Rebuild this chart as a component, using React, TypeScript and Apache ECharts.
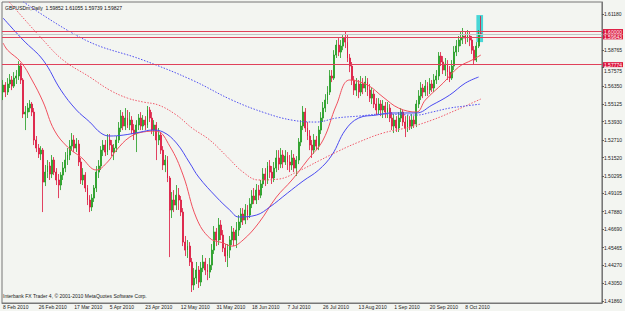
import { useEffect, useRef } from 'react';
import * as echarts from 'echarts';

const SLOT_COUNT = 270;
const LABEL_EVERY = 16;
const categories = Array.from({ length: SLOT_COUNT }, (_, i) => String(i));

const dateLabels = [
  '8 Feb 2010', '26 Feb 2010', '17 Mar 2010', '5 Apr 2010', '23 Apr 2010',
  '12 May 2010', '31 May 2010', '18 Jun 2010', '7 Jul 2010', '26 Jul 2010',
  '13 Aug 2010', '1 Sep 2010', '20 Sep 2010', '8 Oct 2010',
];

const priceTicks = [
  1.4186, 1.4305, 1.4427, 1.45465, 1.4669, 1.4788, 1.49105, 1.50295, 1.5152,
  1.5271, 1.5393, 1.55125, 1.5635, 1.57575, 1.58765, 1.59975, 1.6118,
];
// tick labels that sit just under a level-line box, nudged down as in the reference
const nudgedTicks = [1.57575];

// [open, close, low, high]
const candles = [
  [1.5593, 1.5640, 1.5539, 1.5674], [1.5640, 1.5593, 1.5559, 1.5660], [1.5593, 1.5647, 1.5573, 1.5687],
  [1.5647, 1.5674, 1.5620, 1.5714], [1.5674, 1.5633, 1.5606, 1.5701], [1.5633, 1.5687, 1.5620, 1.5727],
  [1.5687, 1.5701, 1.5647, 1.5741], [1.5701, 1.5768, 1.5674, 1.5801], [1.5768, 1.5674, 1.5647, 1.5788],
  [1.5674, 1.5445, 1.5418, 1.5687], [1.5445, 1.5458, 1.5337, 1.5499], [1.5458, 1.5485, 1.5418, 1.5519],
  [1.5485, 1.5512, 1.5458, 1.5539], [1.5512, 1.5458, 1.5431, 1.5526], [1.5458, 1.5270, 1.5236, 1.5485],
  [1.5270, 1.5216, 1.5189, 1.5297], [1.5216, 1.5176, 1.5149, 1.5243], [1.5176, 1.5202, 1.5135, 1.5229],
  [1.5202, 1.4987, 1.4785, 1.5216], [1.4987, 1.5054, 1.4960, 1.5102], [1.5054, 1.5095, 1.5014, 1.5135],
  [1.5095, 1.5041, 1.5001, 1.5122], [1.5041, 1.5135, 1.5014, 1.5169], [1.5135, 1.5054, 1.5034, 1.5155],
  [1.5054, 1.5001, 1.4967, 1.5081], [1.5001, 1.4967, 1.4879, 1.5041], [1.4967, 1.5034, 1.4933, 1.5054],
  [1.5034, 1.5081, 1.5001, 1.5122], [1.5081, 1.5135, 1.5054, 1.5189], [1.5135, 1.5169, 1.5102, 1.5216],
  [1.5169, 1.5229, 1.5135, 1.5270], [1.5229, 1.5270, 1.5202, 1.5317], [1.5270, 1.5216, 1.5189, 1.5303],
  [1.5216, 1.5243, 1.5189, 1.5283], [1.5243, 1.5122, 1.5095, 1.5270], [1.5122, 1.5001, 1.4974, 1.5149],
  [1.5001, 1.5034, 1.4967, 1.5081], [1.5034, 1.4947, 1.4920, 1.5054], [1.4947, 1.4866, 1.4832, 1.4967],
  [1.4866, 1.4819, 1.4785, 1.4899], [1.4819, 1.4879, 1.4792, 1.4906], [1.4879, 1.4947, 1.4853, 1.4967],
  [1.4947, 1.5054, 1.4920, 1.5095], [1.5054, 1.5095, 1.5014, 1.5135], [1.5095, 1.5202, 1.5068, 1.5229],
  [1.5202, 1.5236, 1.5162, 1.5270], [1.5236, 1.5189, 1.5162, 1.5270], [1.5189, 1.5270, 1.5169, 1.5310],
  [1.5270, 1.5236, 1.5202, 1.5310], [1.5236, 1.5189, 1.5162, 1.5270], [1.5189, 1.5216, 1.5135, 1.5243],
  [1.5216, 1.5270, 1.5189, 1.5297], [1.5270, 1.5351, 1.5250, 1.5391], [1.5351, 1.5431, 1.5324, 1.5472],
  [1.5431, 1.5364, 1.5337, 1.5458], [1.5364, 1.5418, 1.5337, 1.5485], [1.5418, 1.5371, 1.5351, 1.5472],
  [1.5371, 1.5404, 1.5337, 1.5458], [1.5404, 1.5337, 1.5310, 1.5431], [1.5337, 1.5310, 1.5270, 1.5377],
  [1.5310, 1.5371, 1.5189, 1.5404], [1.5371, 1.5418, 1.5337, 1.5445], [1.5418, 1.5364, 1.5337, 1.5458],
  [1.5364, 1.5404, 1.5337, 1.5438], [1.5404, 1.5371, 1.5337, 1.5431], [1.5371, 1.5472, 1.5351, 1.5499],
  [1.5472, 1.5418, 1.5391, 1.5492], [1.5418, 1.5337, 1.5310, 1.5458], [1.5337, 1.5371, 1.5297, 1.5404],
  [1.5371, 1.5270, 1.5135, 1.5391], [1.5270, 1.5303, 1.5236, 1.5351], [1.5303, 1.5202, 1.5176, 1.5324],
  [1.5202, 1.5102, 1.5068, 1.5229], [1.5102, 1.5135, 1.5054, 1.5169], [1.5135, 1.5014, 1.4987, 1.5162],
  [1.5014, 1.4799, 1.4482, 1.5028], [1.4799, 1.4866, 1.4745, 1.4920], [1.4866, 1.4832, 1.4785, 1.4933],
  [1.4832, 1.4899, 1.4799, 1.4967], [1.4899, 1.4866, 1.4799, 1.4947], [1.4866, 1.4785, 1.4758, 1.4893],
  [1.4785, 1.4583, 1.4556, 1.4812], [1.4583, 1.4529, 1.4489, 1.4624], [1.4529, 1.4556, 1.4476, 1.4597],
  [1.4556, 1.4449, 1.4422, 1.4583], [1.4449, 1.4294, 1.4247, 1.4476], [1.4294, 1.4341, 1.4260, 1.4408],
  [1.4341, 1.4395, 1.4301, 1.4449], [1.4395, 1.4314, 1.4274, 1.4422], [1.4314, 1.4408, 1.4287, 1.4449],
  [1.4408, 1.4449, 1.4381, 1.4496], [1.4449, 1.4395, 1.4361, 1.4476], [1.4395, 1.4381, 1.4327, 1.4435],
  [1.4381, 1.4428, 1.4341, 1.4476], [1.4428, 1.4529, 1.4395, 1.4570], [1.4529, 1.4651, 1.4503, 1.4691],
  [1.4651, 1.4597, 1.4556, 1.4678], [1.4597, 1.4698, 1.4563, 1.4745], [1.4698, 1.4630, 1.4597, 1.4731],
  [1.4630, 1.4543, 1.4516, 1.4664], [1.4543, 1.4489, 1.4449, 1.4570], [1.4489, 1.4529, 1.4415, 1.4570],
  [1.4529, 1.4597, 1.4476, 1.4624], [1.4597, 1.4651, 1.4563, 1.4691], [1.4651, 1.4597, 1.4556, 1.4678],
  [1.4597, 1.4664, 1.4543, 1.4718], [1.4664, 1.4718, 1.4624, 1.4765], [1.4718, 1.4772, 1.4678, 1.4812],
  [1.4772, 1.4731, 1.4698, 1.4812], [1.4731, 1.4799, 1.4704, 1.4839], [1.4799, 1.4765, 1.4731, 1.4832],
  [1.4765, 1.4839, 1.4745, 1.4879], [1.4839, 1.4893, 1.4812, 1.4933], [1.4893, 1.4866, 1.4839, 1.4947],
  [1.4866, 1.4933, 1.4839, 1.4974], [1.4933, 1.4899, 1.4866, 1.4967], [1.4899, 1.4974, 1.4879, 1.5001],
  [1.4974, 1.5041, 1.4947, 1.5081], [1.5041, 1.5001, 1.4960, 1.5081], [1.5001, 1.5095, 1.4974, 1.5122],
  [1.5095, 1.5054, 1.5014, 1.5135], [1.5054, 1.5014, 1.4974, 1.5095], [1.5014, 1.5081, 1.4987, 1.5122],
  [1.5081, 1.5149, 1.5054, 1.5202], [1.5149, 1.5108, 1.5068, 1.5202], [1.5108, 1.5169, 1.5081, 1.5216],
  [1.5169, 1.5122, 1.5081, 1.5202], [1.5122, 1.5162, 1.5102, 1.5202], [1.5162, 1.5122, 1.5068, 1.5189],
  [1.5122, 1.5102, 1.5054, 1.5169], [1.5102, 1.5149, 1.5068, 1.5202], [1.5149, 1.5081, 1.5054, 1.5176],
  [1.5081, 1.5135, 1.5028, 1.5162], [1.5135, 1.5256, 1.5108, 1.5283], [1.5256, 1.5364, 1.5229, 1.5404],
  [1.5364, 1.5458, 1.5337, 1.5499], [1.5458, 1.5351, 1.5324, 1.5485], [1.5351, 1.5297, 1.5270, 1.5391],
  [1.5297, 1.5236, 1.5202, 1.5337], [1.5236, 1.5202, 1.5149, 1.5270], [1.5202, 1.5270, 1.5176, 1.5310],
  [1.5270, 1.5229, 1.5202, 1.5297], [1.5229, 1.5337, 1.5202, 1.5364], [1.5337, 1.5418, 1.5310, 1.5458],
  [1.5418, 1.5485, 1.5391, 1.5526], [1.5485, 1.5539, 1.5458, 1.5579], [1.5539, 1.5593, 1.5512, 1.5633],
  [1.5593, 1.5701, 1.5573, 1.5741], [1.5701, 1.5687, 1.5660, 1.5741], [1.5687, 1.5842, 1.5674, 1.5875],
  [1.5842, 1.5909, 1.5822, 1.5943], [1.5909, 1.5862, 1.5835, 1.5956], [1.5862, 1.5902, 1.5822, 1.5943],
  [1.5902, 1.5956, 1.5875, 1.5976], [1.5956, 1.5929, 1.5889, 1.5997], [1.5929, 1.5822, 1.5795, 1.5983],
  [1.5822, 1.5768, 1.5727, 1.5849], [1.5768, 1.5674, 1.5640, 1.5795], [1.5674, 1.5606, 1.5573, 1.5701],
  [1.5606, 1.5647, 1.5566, 1.5687], [1.5647, 1.5593, 1.5552, 1.5674], [1.5593, 1.5647, 1.5566, 1.5701],
  [1.5647, 1.5620, 1.5579, 1.5687], [1.5620, 1.5660, 1.5593, 1.5701], [1.5660, 1.5606, 1.5566, 1.5687],
  [1.5606, 1.5552, 1.5526, 1.5647], [1.5552, 1.5579, 1.5512, 1.5620], [1.5579, 1.5512, 1.5485, 1.5606],
  [1.5512, 1.5472, 1.5438, 1.5552], [1.5472, 1.5512, 1.5445, 1.5552], [1.5512, 1.5472, 1.5431, 1.5539],
  [1.5472, 1.5499, 1.5418, 1.5539], [1.5499, 1.5458, 1.5418, 1.5526], [1.5458, 1.5485, 1.5418, 1.5526],
  [1.5485, 1.5418, 1.5391, 1.5512], [1.5418, 1.5364, 1.5337, 1.5458], [1.5364, 1.5404, 1.5317, 1.5445],
  [1.5404, 1.5351, 1.5324, 1.5431], [1.5351, 1.5418, 1.5324, 1.5458], [1.5418, 1.5458, 1.5391, 1.5485],
  [1.5458, 1.5391, 1.5364, 1.5472], [1.5391, 1.5351, 1.5290, 1.5431], [1.5351, 1.5404, 1.5324, 1.5438],
  [1.5404, 1.5364, 1.5337, 1.5431], [1.5364, 1.5404, 1.5344, 1.5445], [1.5404, 1.5377, 1.5351, 1.5431],
  [1.5377, 1.5512, 1.5357, 1.5539], [1.5512, 1.5566, 1.5485, 1.5606], [1.5566, 1.5620, 1.5539, 1.5660],
  [1.5620, 1.5593, 1.5552, 1.5647], [1.5593, 1.5633, 1.5566, 1.5674], [1.5633, 1.5606, 1.5566, 1.5660],
  [1.5606, 1.5647, 1.5579, 1.5687], [1.5647, 1.5620, 1.5593, 1.5674], [1.5620, 1.5674, 1.5593, 1.5714],
  [1.5674, 1.5701, 1.5647, 1.5741], [1.5701, 1.5835, 1.5674, 1.5862], [1.5835, 1.5795, 1.5768, 1.5862],
  [1.5795, 1.5741, 1.5714, 1.5835], [1.5741, 1.5781, 1.5701, 1.5822], [1.5781, 1.5727, 1.5674, 1.5808],
  [1.5727, 1.5687, 1.5660, 1.5768], [1.5687, 1.5768, 1.5674, 1.5808], [1.5768, 1.5862, 1.5741, 1.5902],
  [1.5862, 1.5902, 1.5835, 1.5943], [1.5902, 1.5943, 1.5862, 1.5970], [1.5943, 1.5956, 1.5902, 1.5997],
  [1.5956, 1.5970, 1.5916, 1.6024], [1.5970, 1.5956, 1.5916, 1.5997], [1.5956, 1.5970, 1.5929, 1.6010],
  [1.5970, 1.5943, 1.5902, 1.5997], [1.5943, 1.5875, 1.5849, 1.5970], [1.5875, 1.5808, 1.5781, 1.5902],
  [1.5808, 1.5902, 1.5795, 1.5929], [1.5902, 1.5983, 1.5889, 1.6010], [1.59852, 1.59827, 1.59739, 1.61055],
];

// moving averages, read at sampled bars: [bar index, price]
const maFastRed = [
  [0, 1.5923], [2, 1.5875], [8, 1.5795], [13, 1.5674], [18, 1.5526], [23, 1.5337], [29, 1.5223],
  [35, 1.5155], [42, 1.5068], [47, 1.5122], [51, 1.5202], [57, 1.5290], [63, 1.5324], [69, 1.5330],
  [75, 1.5229], [81, 1.5034], [87, 1.4745], [93, 1.4610], [99, 1.4577], [103, 1.4556], [108, 1.4597],
  [115, 1.4711], [123, 1.4886], [130, 1.5001], [137, 1.5135], [144, 1.5270], [150, 1.5505], [156, 1.5674],
  [164, 1.5640], [171, 1.5559], [178, 1.5485], [186, 1.5458], [190, 1.5539], [198, 1.5653], [205, 1.5761],
  [211, 1.5808], [215, 1.5842],
];
const maMidBlue = [
  [0, 1.6091], [9, 1.5943], [18, 1.5808], [26, 1.5606], [33, 1.5472], [39, 1.5391], [44, 1.5317],
  [48, 1.5297], [54, 1.5303], [62, 1.5324], [67, 1.5337], [72, 1.5324], [78, 1.5250], [84, 1.5115],
  [88, 1.5021], [96, 1.4886], [102, 1.4799], [106, 1.4752], [114, 1.4765], [120, 1.4819], [128, 1.4913],
  [135, 1.4994], [142, 1.5068], [148, 1.5169], [154, 1.5337], [160, 1.5418], [168, 1.5438], [175, 1.5452],
  [186, 1.5452], [193, 1.5505], [201, 1.5573], [208, 1.5653], [214, 1.5694],
];
const maSlowRed = [
  [2, 1.6212], [18, 1.5943], [27, 1.5808], [39, 1.5694], [48, 1.5606], [56, 1.5552], [63, 1.5526],
  [70, 1.5505], [78, 1.5438], [85, 1.5351], [93, 1.5270], [101, 1.5155], [108, 1.5054], [115, 1.5001],
  [124, 1.5007], [133, 1.5061], [142, 1.5129], [151, 1.5196], [160, 1.5256], [171, 1.5317], [183, 1.5357],
  [193, 1.5404], [204, 1.5472], [211, 1.5519], [215, 1.5546],
];
const maSlowBlue = [
  [8, 1.6212], [37, 1.5943], [63, 1.5808], [85, 1.5674], [103, 1.5539], [118, 1.5452], [130, 1.5404],
  [141, 1.5391], [150, 1.5418], [160, 1.5431], [171, 1.5445], [186, 1.5438], [193, 1.5458], [201, 1.5485],
  [208, 1.5499], [215, 1.5512],
];

const levelLines = [1.6, 1.59643, 1.57774];
const bidLine = 1.59827;
const highlightBox = { fromBar: 213, toBar: 216, top: 1.6111, bottom: 1.5929 };
const headerText = 'GBPUSDm,Daily  1.59852 1.61055 1.59739 1.59827';
const copyrightText = 'Interbank FX Trader 4, \u00a9 2001-2010 MetaQuotes Software Corp.';

const FONT = 'Liberation Sans, Arial, sans-serif';
const LEVEL_RED = '#e0405a';

export default function App() {
  const ref = useRef<HTMLDivElement>(null);
  useEffect(() => {
    if (!ref.current) return;
    const chart = echarts.init(ref.current, null, { renderer: 'svg' });
    const showTick = (index: number) =>
      index % LABEL_EVERY === 0 && index / LABEL_EVERY < dateLabels.length;
    const maLine = (data: number[][], color: string, dashed: boolean) => ({
      type: 'line',
      data,
      smooth: 0.4,
      symbol: 'none',
      silent: true,
      z: 3,
      lineStyle: { color, width: 1, type: dashed ? [1.5, 1.5] : 'solid' },
    });
    chart.setOption({
      animation: false,
      backgroundColor: '#f3f5f1',
      textStyle: { fontFamily: FONT },
      grid: { left: 2, right: 22, top: 2, bottom: 8, show: true, borderColor: '#777', borderWidth: 1 },
      xAxis: {
        type: 'category',
        data: categories,
        boundaryGap: true,
        axisLine: { lineStyle: { color: '#777', width: 1 } },
        axisTick: { alignWithLabel: true, interval: showTick, length: 3, lineStyle: { color: '#555' } },
        axisLabel: {
          interval: showTick,
          formatter: (v: string) => dateLabels[Number(v) / LABEL_EVERY] ?? '',
          align: 'left',
          margin: 1,
          fontSize: 5,
          color: '#222',
          fontFamily: FONT,
        },
        splitLine: { show: false },
      },
      yAxis: {
        type: 'value',
        position: 'right',
        min: 1.4173,
        max: 1.6199,
        splitLine: { show: false },
        axisLine: { show: true, lineStyle: { color: '#777', width: 1 } },
        axisTick: { show: true, length: 2, customValues: priceTicks, lineStyle: { color: '#555' } },
        axisLabel: {
          customValues: priceTicks,
          formatter: (v: number) =>
            nudgedTicks.some((t) => Math.abs(t - v) < 1e-6) ? `{low|${v.toFixed(5)}}` : v.toFixed(5),
          rich: { low: { fontSize: 5, padding: [6, 0, 0, 0], color: '#222', fontFamily: FONT } },
          fontSize: 5,
          margin: 2,
          color: '#222',
          fontFamily: FONT,
        },
      },
      series: [
        {
          type: 'candlestick',
          data: candles,
          barWidth: 1.4,
          z: 2,
          itemStyle: {
            color: '#1e9a1e',
            color0: '#dc143c',
            borderColor: '#1e9a1e',
            borderColor0: '#dc143c',
            borderWidth: 0.8,
          },
          markArea: {
            silent: true,
            itemStyle: { color: '#48d6d6' },
            data: [[
              { xAxis: categories[highlightBox.fromBar], yAxis: highlightBox.top },
              { xAxis: categories[highlightBox.toBar], yAxis: highlightBox.bottom },
            ]],
          },
          markLine: {
            silent: true,
            symbol: ['none', 'none'],
            precision: 5,
            lineStyle: { color: LEVEL_RED, width: 1, type: 'solid' },
            label: {
              show: true,
              position: 'end',
              distance: 1,
              formatter: (p: any) => Number(p.value).toFixed(5),
              backgroundColor: '#dc143c',
              color: '#fff',
              fontSize: 5,
              lineHeight: 5,
              padding: [0, 1],
              fontFamily: FONT,
            },
            emphasis: { disabled: true },
            data: [
              ...levelLines.map((v) => ({
                yAxis: v,
                lineStyle: { color: LEVEL_RED, width: 1, type: 'solid' },
              })),
              {
                yAxis: bidLine,
                lineStyle: { color: '#c4c4c4', width: 1, type: 'solid' },
                label: { show: false },
              },
            ],
          },
        },
        maLine(maFastRed, '#f0505e', false),
        maLine(maMidBlue, '#4a4af0', false),
        maLine(maSlowRed, '#f05a6a', true),
        maLine(maSlowBlue, '#5050f0', true),
      ],
      graphic: [
        { type: 'text', left: 5, top: 5, style: { text: headerText, fontSize: 5, fill: '#111', fontFamily: FONT } },
        { type: 'text', left: 3, top: 293, style: { text: copyrightText, fontSize: 5, fill: '#222', fontFamily: FONT } },
      ],
    });
    return () => chart.dispose();
  }, []);
  return <div ref={ref} style={{ position: 'fixed', left: 0, top: 0, width: 625, height: 311 }} />;
}
